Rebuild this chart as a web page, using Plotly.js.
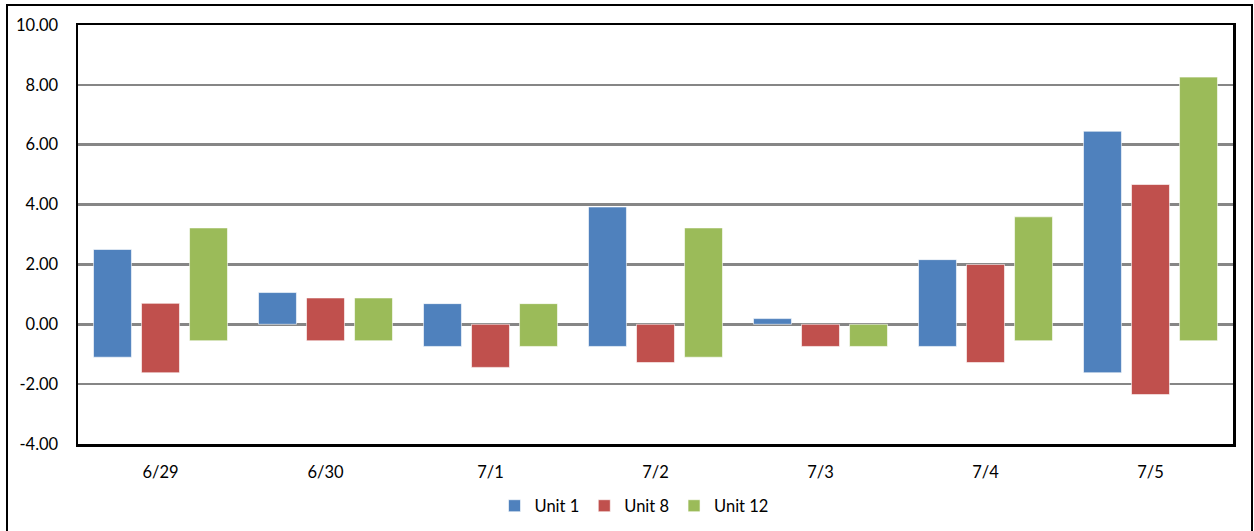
<!DOCTYPE html>
<html>
<head>
<meta charset="utf-8">
<script src="https://cdn.plot.ly/plotly-3.0.1.min.js"></script>
<style>
html,body{margin:0;padding:0;background:#fff;}
#chart{width:1254px;height:531px;}
</style>
</head>
<body>
<div id="chart"></div>
<script>
const categories = ["6/29", "6/30", "7/1", "7/2", "7/3", "7/4", "7/5"];
const seriesNames = ["Unit 1", "Unit 8", "Unit 12"];
const unit1Low  = [-1.10, 0.00, -0.74, -0.74, 0.00, -0.74, -1.62];
const unit1High = [ 2.50, 1.06,  0.69,  3.92, 0.19,  2.16,  6.45];
const unit8Low  = [-1.62, -0.55, -1.44, -1.28, -0.74, -1.28, -2.35];
const unit8High = [ 0.70,  0.88,  0.00,  0.00,  0.00,  2.00,  4.67];
const unit12Low  = [-0.55, -0.55, -0.74, -1.10, -0.74, -0.55, -0.55];
const unit12High = [ 3.22,  0.88,  0.69,  3.22,  0.00,  3.59,  8.26];
const colors = ["#4F81BD", "#C0504D", "#9BBB59"];
const yTicks = [-4, -2, 0, 2, 4, 6, 8, 10];

const lows = [unit1Low, unit8Low, unit12Low];
const highs = [unit1High, unit8High, unit12High];

const traces = seriesNames.map((name, i) => ({
  type: "bar",
  name: name,
  x: categories,
  base: lows[i],
  y: highs[i].map((h, k) => h - lows[i][k]),
  marker: {color: colors[i], line: {color: "rgba(255,255,255,0.6)", width: 1}},
  hoverinfo: "none"
}));

const L = 78, R = 1233, T = 25, B = 444;
const W = 1254, H = 531;
const pw = R - L, ph = B - T;

const layout = {
  width: W, height: H,
  margin: {l: L, r: W - R, t: T, b: H - B},
  paper_bgcolor: "#ffffff",
  plot_bgcolor: "#ffffff",
  barmode: "group",
  bargap: 0.127,
  bargroupgap: 0.21,
  font: {family: "Lato, 'Open Sans', sans-serif", size: 16.5, color: "#000"},
  showlegend: true,
  legend: {
    orientation: "h", xref: "container", yref: "container",
    x: 634 / W, xanchor: "center",
    y: 1 - 506 / H, yanchor: "middle",
    font: {size: 16.5}, itemwidth: 30, traceorder: "normal"
  },
  xaxis: {
    type: "category", automargin: false,
    showgrid: false,
    showline: true, linecolor: "#000", linewidth: 2.5, mirror: true,
    ticks: "", ticklabelstandoff: 12, tickfont: {size: 16.5},
    zeroline: false, fixedrange: true
  },
  yaxis: {
    range: [-4, 10], automargin: false,
    tickvals: yTicks,
    ticktext: yTicks.map(v => v.toFixed(2)),
    showgrid: true, gridcolor: "#868686", gridwidth: 2.5,
    zeroline: true, zerolinecolor: "#868686", zerolinewidth: 2.5,
    showline: true, linecolor: "#000", linewidth: 2.5, mirror: true,
    ticks: "", ticklabelstandoff: 14, tickfont: {size: 16.5}, fixedrange: true
  },
  shapes: [{
    type: "rect", xref: "paper", yref: "paper",
    x0: (7 - L) / pw, x1: (1252 - L) / pw,
    y0: (B - 540) / ph, y1: (B - 5) / ph,
    line: {color: "#000", width: 2}, fillcolor: "rgba(0,0,0,0)", layer: "below"
  }]
};

Plotly.newPlot("chart", traces, layout, {displayModeBar: false, staticPlot: true});
</script>
</body>
</html>
